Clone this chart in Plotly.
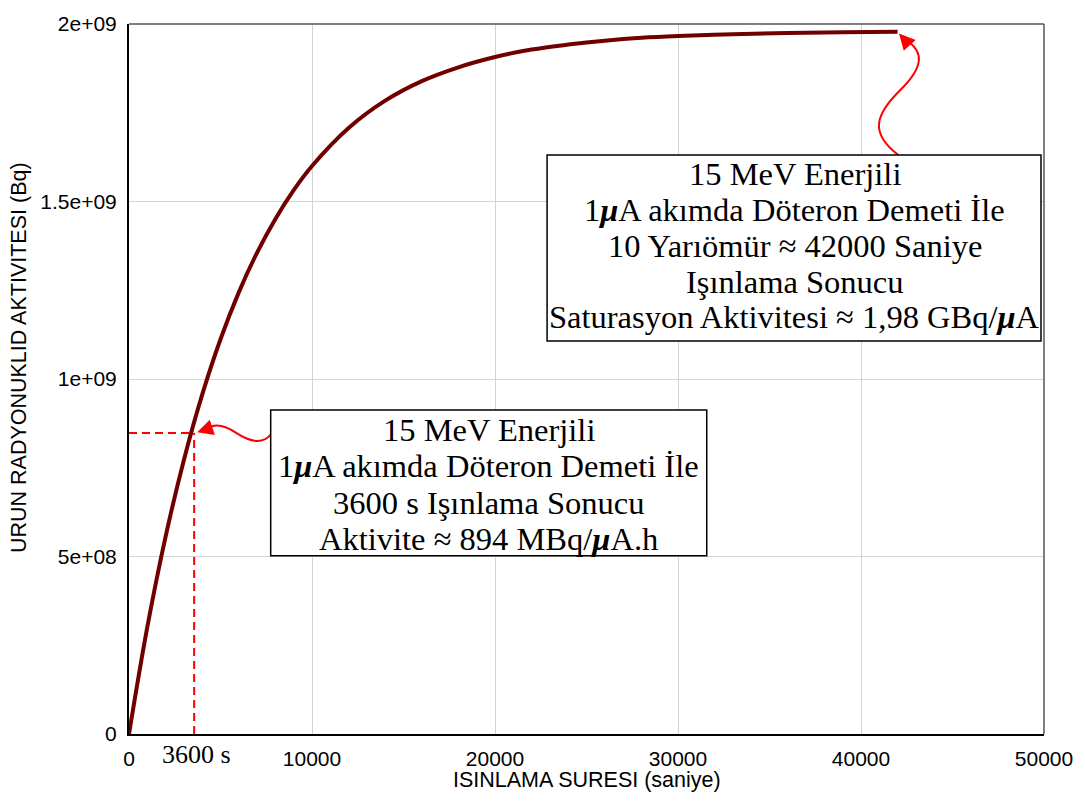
import plotly.graph_objects as go

# ---- data ----
time_s = [0, 1000, 2000, 3000, 4000, 5000, 6000, 7000, 8000, 9000, 10000,
          12000, 14000, 16000, 18000, 20000, 22000, 24000, 26000, 28000,
          30000, 33000, 36000, 39000, 42000]
activity_bq = [0, 0.301e9, 0.556e9, 0.772e9, 0.956e9, 1.112e9, 1.244e9, 1.356e9,
               1.451e9, 1.532e9, 1.600e9, 1.707e9, 1.784e9, 1.839e9, 1.878e9,
               1.907e9, 1.928e9, 1.942e9, 1.953e9, 1.961e9, 1.966e9, 1.971e9,
               1.975e9, 1.977e9, 1.978e9]
marker_t = 3560
marker_a = 0.848e9

x_tickvals = [0, 10000, 20000, 30000, 40000, 50000]
x_ticktext = ["0", "10000", "20000", "30000", "40000", "50000"]
y_tickvals = [0, 5e8, 1e9, 1.5e9, 2e9]
y_ticktext = ["0", "5e+08", "1e+09", "1.5e+09", "2e+09"]

box1_lines = ["15 MeV Enerjili",
              "1<b><i>μ</i></b>A akımda Döteron Demeti İle",
              "10 Yarıömür ≈ 42000 Saniye",
              "Işınlama Sonucu",
              "Saturasyon Aktivitesi ≈ 1,98 GBq/<b><i>μ</i></b>A"]
box2_lines = ["15 MeV Enerjili",
              "1<b><i>μ</i></b>A akımda Döteron Demeti İle",
              "3600 s Işınlama Sonucu",
              "Aktivite ≈ 894 MBq/<b><i>μ</i></b>A.h"]

# ---- layout geometry (pixels) ----
W, H = 1085, 802
L, R, T, B = 129, 39, 13, 68
PW, PH = W - L - R, H - T - B


def px(X, Y):
    return (X - L) / PW, (H - B - Y) / PH


def path(cmds):
    out = []
    for c in cmds:
        if isinstance(c, str):
            out.append(c)
        else:
            a, b = px(*c)
            out.append(f"{a:.5f},{b:.5f}")
    return " ".join(out)


fig = go.Figure()

fig.add_trace(go.Scatter(x=[0, marker_t], y=[marker_a, marker_a], mode="lines",
                         line=dict(color="#ff0000", width=2, dash="8px,5px"),
                         hoverinfo="skip", showlegend=False))
fig.add_trace(go.Scatter(x=[marker_t, marker_t], y=[0, marker_a], mode="lines",
                         line=dict(color="#ff0000", width=2, dash="8px,5px"),
                         hoverinfo="skip", showlegend=False))
fig.add_trace(go.Scatter(x=time_s, y=activity_bq, mode="lines",
                         line=dict(color="#700000", width=4, shape="spline"),
                         showlegend=False))


def rect(x0, y0, x1, y1):
    a0, b0 = px(x0, y1)
    a1, b1 = px(x1, y0)
    return dict(type="rect", xref="paper", yref="paper", x0=a0, y0=b0, x1=a1, y1=b1,
                fillcolor="white", line=dict(color="black", width=1.5), layer="above")


shapes = [
    # top & right frame
    dict(type="line", xref="paper", yref="paper", x0=0, x1=1, y0=1, y1=1,
         line=dict(color="#555555", width=1.5)),
    dict(type="line", xref="paper", yref="paper", x0=1, x1=1, y0=0, y1=1,
         line=dict(color="#555555", width=1.5)),
    # wavy arrows
    dict(type="path", xref="paper", yref="paper",
         path=path(["M", (900, 146), "C", (870, 123), (878, 104), (902, 80),
                    "C", (925, 57), (926, 42), (909, 30)]),
         line=dict(color="#ff0000", width=2)),
    dict(type="path", xref="paper", yref="paper",
         path=path(["M", (271, 430), "C", (262, 441), (248, 436), (236, 428),
                    "C", (224, 420), (214, 419), (207, 424)]),
         line=dict(color="#ff0000", width=2)),
    # annotation boxes
    rect(548, 146, 1043, 335),
    rect(271, 405, 708, 553),
]

serif = "Liberation Serif, Times New Roman, serif"
sans = "Liberation Sans, Arial, sans-serif"

annotations = []
box1_cx = 796
box1_cy = [165, 201.5, 238, 274.5, 311]
for txt, cy in zip(box1_lines, box1_cy):
    ax_, ay_ = px(box1_cx, cy)
    annotations.append(dict(x=ax_, y=ay_, xref="paper", yref="paper", showarrow=False,
                            text=txt, font=dict(family=serif, size=32.5, color="black"),
                            xanchor="center", yanchor="middle"))
box2_cx = 489.5
box2_cy = [425, 462, 499, 536]
for txt, cy in zip(box2_lines, box2_cy):
    ax_, ay_ = px(box2_cx, cy)
    annotations.append(dict(x=ax_, y=ay_, xref="paper", yref="paper", showarrow=False,
                            text=txt, font=dict(family=serif, size=32.5, color="black"),
                            xanchor="center", yanchor="middle"))

t1x, t1y = px(900.7, 22.7)
t2x, t2y = px(197.3, 427.7)
lx, ly = px(197, 755)
xtx, xty = px(588, 781)
ytx, yty = px(19, 352)

annotations += [
    dict(x=t1x, y=t1y, xref="paper", yref="paper", text="", showarrow=True,
         ax=9, ay=10, arrowhead=2, arrowsize=1.6, arrowwidth=2, arrowcolor="#ff0000"),
    dict(x=t2x, y=t2y, xref="paper", yref="paper", text="", showarrow=True,
         ax=12, ay=-4, arrowhead=2, arrowsize=1.6, arrowwidth=2, arrowcolor="#ff0000"),
    dict(x=lx, y=ly, xref="paper", yref="paper", text="3600 s", showarrow=False,
         font=dict(family=serif, size=26, color="black"),
         xanchor="center", yanchor="middle"),
    dict(x=xtx, y=xty, xref="paper", yref="paper", text="ISINLAMA SURESI (saniye)",
         showarrow=False, font=dict(family=sans, size=21.5, color="black"),
         xanchor="center", yanchor="middle"),
    dict(x=ytx, y=yty, xref="paper", yref="paper",
         text="URUN RADYONUKLID AKTIVITESI (Bq)", textangle=-90,
         showarrow=False, font=dict(family=sans, size=21.5, color="black"),
         xanchor="center", yanchor="middle"),
]

fig.update_layout(
    width=W, height=H, autosize=False,
    margin=dict(l=L, r=R, t=T, b=B),
    paper_bgcolor="white", plot_bgcolor="white",
    shapes=shapes, annotations=annotations,
    xaxis=dict(range=[0, 50000], tickvals=x_tickvals, ticktext=x_ticktext,
               showgrid=True, gridcolor="#d3d3d3", gridwidth=1, zeroline=False,
               showline=True, linecolor="black", linewidth=2, ticks="",
               ticklabelstandoff=5,
               tickfont=dict(family=sans, size=21, color="black")),
    yaxis=dict(range=[0, 2e9], tickvals=y_tickvals, ticktext=y_ticktext,
               showgrid=True, gridcolor="#d3d3d3", gridwidth=1, zeroline=False,
               showline=True, linecolor="black", linewidth=2, ticks="",
               ticklabelstandoff=6,
               tickfont=dict(family=sans, size=21, color="black")),
)

fig.write_html("out.html")
